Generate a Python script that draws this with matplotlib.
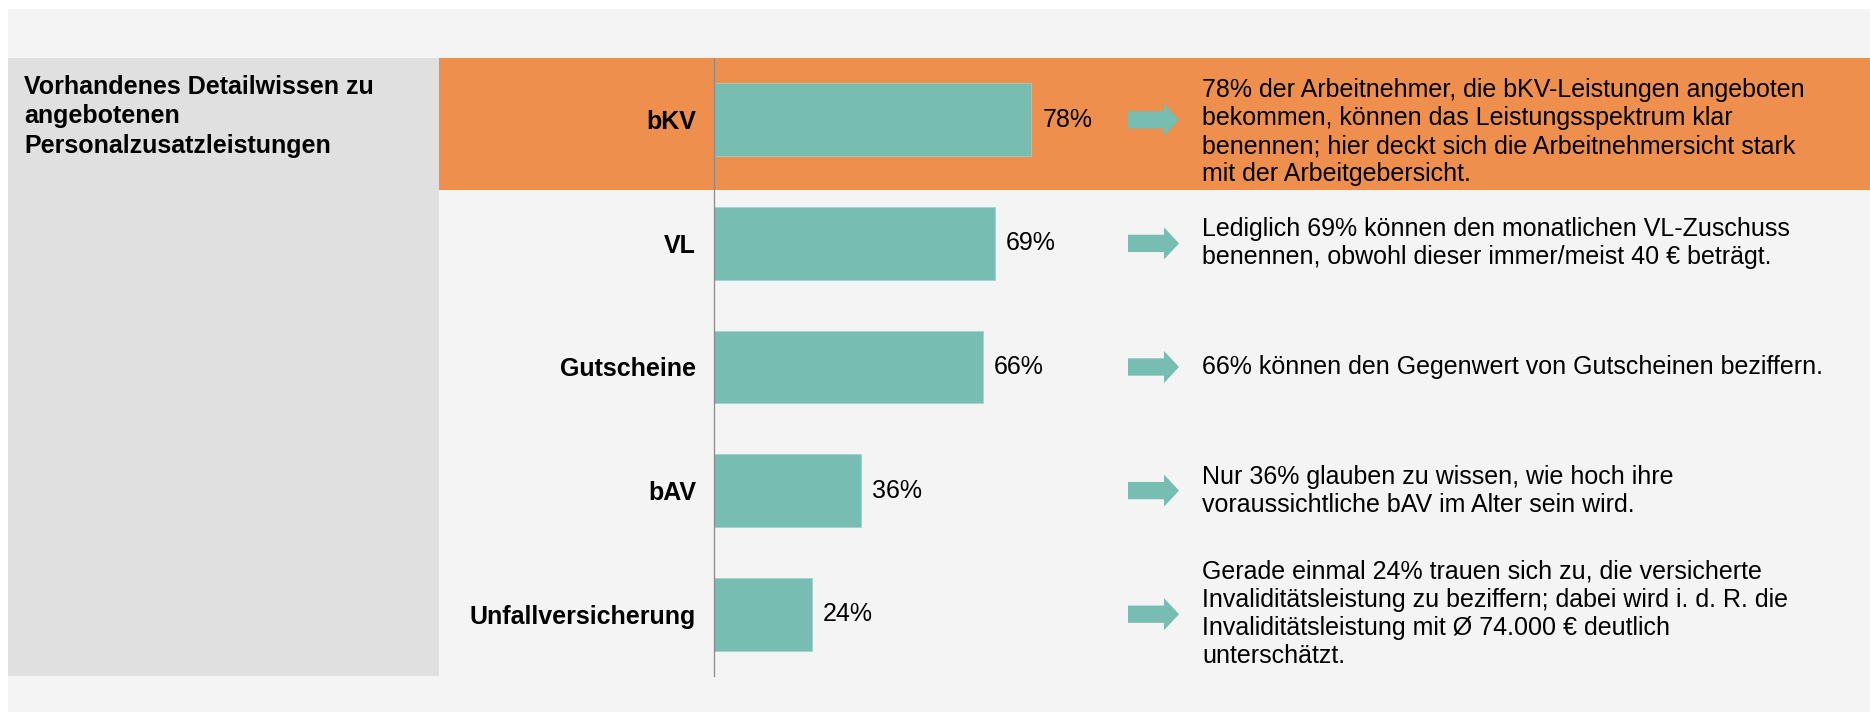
import matplotlib
matplotlib.use("Agg")
import matplotlib.pyplot as plt
from matplotlib import patches as mpatches
from matplotlib import transforms
import numpy as np

plt.rcParams['font.family'] = ['Liberation Sans', 'DejaVu Sans']

categories = ['bKV', 'VL', 'Gutscheine', 'bAV', 'Unfallversicherung']
values = [78, 69, 66, 36, 24]
comments = [
    "78% der Arbeitnehmer, die bKV-Leistungen angeboten\nbekommen, können das Leistungsspektrum klar\nbenennen; hier deckt sich die Arbeitnehmersicht stark\nmit der Arbeitgebersicht.",
    "Lediglich 69% können den monatlichen VL-Zuschuss\nbenennen, obwohl dieser immer/meist 40 € beträgt.",
    "66% können den Gegenwert von Gutscheinen beziffern.",
    "Nur 36% glauben zu wissen, wie hoch ihre\nvoraussichtliche bAV im Alter sein wird.",
    "Gerade einmal 24% trauen sich zu, die versicherte\nInvaliditätsleistung zu beziffern; dabei wird i. d. R. die\nInvaliditätsleistung mit Ø 74.000 € deutlich\nunterschätzt.",
]
title = "Vorhandenes Detailwissen zu\nangebotenen\nPersonalzusatzleistungen"

W, H = 1870, 712
teal = '#77bdb2'
orange = '#ef8f4e'

fig = plt.figure(figsize=(W / 100, H / 100), dpi=100, facecolor='white')


def px_rect(x0, y0, x1, y1, color):
    # rectangle given in pixel coords measured from the top-left
    fig.patches.append(mpatches.Rectangle((x0 / W, 1 - y1 / H), (x1 - x0) / W, (y1 - y0) / H,
                                          transform=fig.transFigure, color=color, zorder=-5, lw=0))


px_rect(8, 9, W, H, '#f4f4f4')
px_rect(8, 58, 439, 676, '#e0e0e0')
px_rect(439, 58, W, 190, orange)

fig.text(24 / W, 1 - 75 / H, title, fontsize=18, fontweight='bold', va='top', ha='left',
         linespacing=1.28, transform=fig.transFigure)

ax = fig.add_axes([714 / W, 1 - 676 / H, (W - 714) / W, 618 / H])
ax.patch.set_visible(False)
y = np.arange(len(categories))
bars = ax.barh(y, values, height=0.59, color=teal, edgecolor='#9fd0c8', linewidth=0.5)
ax.bar_label(bars, labels=[f"{v}%" for v in values], padding=8, fontsize=18)
ax.set_xlim(0, (W - 714) / 4.07)
ax.set_ylim(len(categories) - 0.5, -0.5)
ax.set_yticks(y)
ax.set_yticklabels(categories, fontsize=18, fontweight='bold')
ax.tick_params(axis='y', length=0, pad=13)
ax.set_xticks([])
for s in ['top', 'right', 'bottom']:
    ax.spines[s].set_visible(False)
ax.spines['left'].set_color('#8a8a8a')
ax.spines['left'].set_linewidth(0.9)

# arrows and comments, x in figure pixels, y in data rows
trans = transforms.blended_transform_factory(fig.transFigure, ax.transData)
for i, txt in enumerate(comments):
    arrow = mpatches.FancyArrow(1128 / W, i, 36 / W, 0, width=0.14, head_width=0.26,
                                head_length=15 / W, length_includes_head=False,
                                transform=trans, color=teal, lw=0, clip_on=False)
    ax.add_patch(arrow)
    ax.text(1202 / W, i + (0.1 if i == 0 else 0), txt, transform=trans, fontsize=18,
            va='center', ha='left', linespacing=1.22, clip_on=False)

fig.savefig('out.png', dpi=100, facecolor=fig.get_facecolor())
